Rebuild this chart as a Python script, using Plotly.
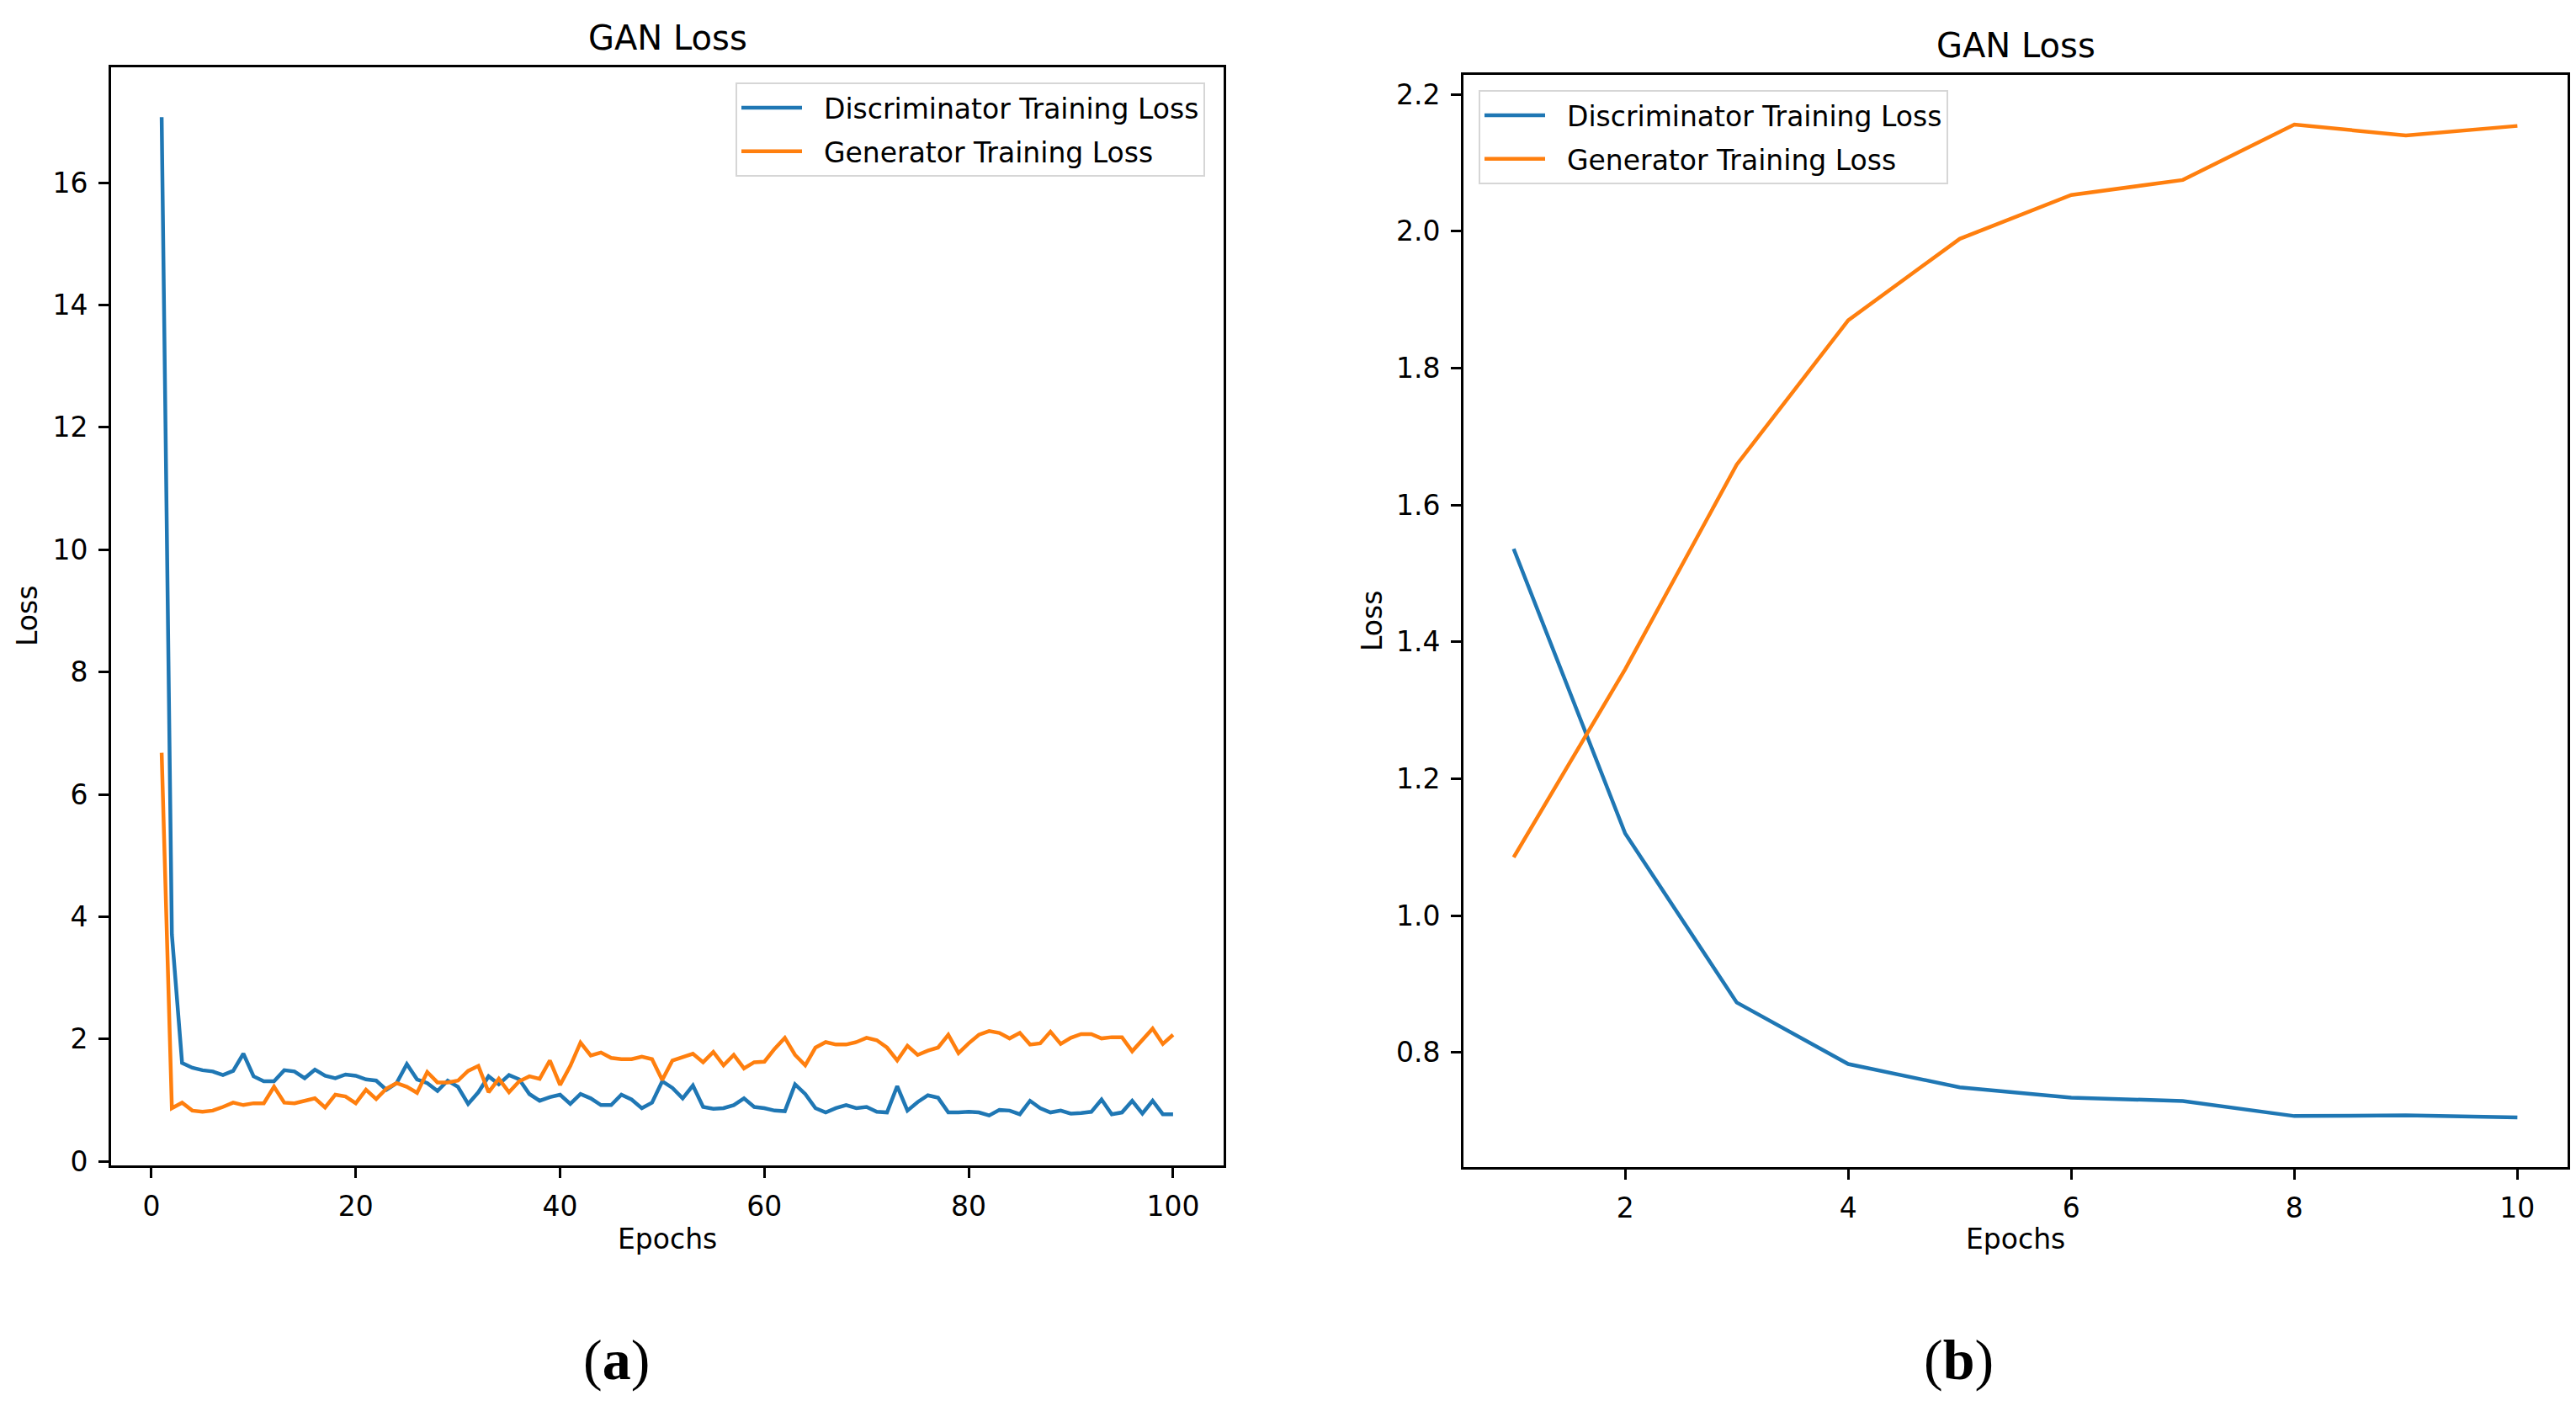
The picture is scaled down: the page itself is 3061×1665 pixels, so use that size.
import plotly.graph_objects as go

# (a) 100-epoch run
epochs_a = list(range(1, 101))
disc_loss_a = [
    17.07, 3.71, 1.61, 1.53, 1.49, 1.47, 1.41, 1.48, 1.76, 1.39,
    1.31, 1.31, 1.49, 1.47, 1.36, 1.50, 1.40, 1.36, 1.42, 1.40,
    1.34, 1.32, 1.17, 1.28, 1.59, 1.34, 1.28, 1.15, 1.32, 1.22,
    0.94, 1.13, 1.39, 1.26, 1.41, 1.34, 1.10, 0.99, 1.05, 1.09,
    0.94, 1.10, 1.03, 0.92, 0.92, 1.09, 1.01, 0.87, 0.96, 1.31,
    1.20, 1.03, 1.24, 0.89, 0.86, 0.87, 0.92, 1.03, 0.89, 0.87,
    0.83, 0.82, 1.26, 1.10, 0.87, 0.80, 0.87, 0.92, 0.87, 0.89,
    0.81, 0.80, 1.23, 0.83, 0.97, 1.08, 1.04, 0.80, 0.80, 0.81,
    0.80, 0.75, 0.84, 0.83, 0.77, 0.99, 0.87, 0.80, 0.83, 0.78,
    0.79, 0.81, 1.01, 0.77, 0.80, 0.99, 0.78, 0.99, 0.77, 0.77,
]
gen_loss_a = [
    6.68, 0.87, 0.96, 0.83, 0.81, 0.83, 0.89, 0.96, 0.92, 0.95,
    0.95, 1.22, 0.96, 0.95, 0.99, 1.03, 0.88, 1.09, 1.06, 0.95,
    1.17, 1.02, 1.19, 1.28, 1.22, 1.12, 1.46, 1.29, 1.29, 1.32,
    1.48, 1.56, 1.13, 1.35, 1.13, 1.31, 1.39, 1.35, 1.65, 1.25,
    1.56, 1.94, 1.73, 1.78, 1.69, 1.67, 1.67, 1.71, 1.67, 1.33,
    1.65, 1.70, 1.76, 1.62, 1.79, 1.57, 1.74, 1.52, 1.62, 1.63,
    1.84, 2.02, 1.74, 1.57, 1.86, 1.95, 1.91, 1.91, 1.95, 2.02,
    1.98, 1.86, 1.65, 1.89, 1.74, 1.81, 1.86, 2.07, 1.77, 1.93,
    2.07, 2.13, 2.10, 2.01, 2.10, 1.91, 1.93, 2.12, 1.92, 2.02,
    2.08, 2.08, 2.01, 2.03, 2.03, 1.80, 1.99, 2.17, 1.92, 2.07,
]

# (b) 10-epoch run
epochs_b = list(range(1, 11))
disc_loss_b = [1.536, 1.120, 0.873, 0.783, 0.749, 0.734, 0.729, 0.707, 0.708, 0.705]
gen_loss_b = [1.085, 1.360, 1.659, 1.870, 1.989, 2.053, 2.075, 2.156, 2.140, 2.154]

ticks_xa = [0, 20, 40, 60, 80, 100]
ticks_ya = [0, 2, 4, 6, 8, 10, 12, 14, 16]
ticks_xb = [2, 4, 6, 8, 10]
ticks_yb = [0.8, 1.0, 1.2, 1.4, 1.6, 1.8, 2.0, 2.2]

BLUE = "#1f77b4"
ORANGE = "#ff7f0e"
W, H = 3061, 1665
FONT = "DejaVu Sans"
GAP = "\u00a0\u00a0"  # small gap between legend line and label


def pad_range(vals, frac=0.05):
    # matplotlib-style 5% margins
    lo, hi = min(vals), max(vals)
    d = (hi - lo) * frac
    return [lo - d, hi + d]


fig = go.Figure()

fig.add_trace(go.Scatter(x=epochs_a, y=disc_loss_a, mode="lines", name=GAP + "Discriminator Training Loss",
                         line=dict(color=BLUE, width=4.5), xaxis="x", yaxis="y",
                         legend="legend", legendgroup="a1"))
fig.add_trace(go.Scatter(x=epochs_a, y=gen_loss_a, mode="lines", name=GAP + "Generator Training Loss",
                         line=dict(color=ORANGE, width=4.5), xaxis="x", yaxis="y",
                         legend="legend", legendgroup="a2"))
fig.add_trace(go.Scatter(x=epochs_b, y=disc_loss_b, mode="lines", name=GAP + "Discriminator Training Loss",
                         line=dict(color=BLUE, width=4.5), xaxis="x2", yaxis="y2",
                         legend="legend2", legendgroup="b1"))
fig.add_trace(go.Scatter(x=epochs_b, y=gen_loss_b, mode="lines", name=GAP + "Generator Training Loss",
                         line=dict(color=ORANGE, width=4.5), xaxis="x2", yaxis="y2",
                         legend="legend2", legendgroup="b2"))

axis_style = dict(
    showline=True, linecolor="black", linewidth=2.6, mirror=True,
    showgrid=False, zeroline=False,
    ticks="outside", ticklen=12, tickwidth=2.6, tickcolor="black",
    tickfont=dict(family=FONT, size=33, color="black"),
    ticklabelstandoff=6, automargin=False,
)

fig.update_layout(
    xaxis=dict(axis_style, domain=[132 / W, 1454 / W], anchor="y",
               range=pad_range(epochs_a), tickvals=ticks_xa),
    yaxis=dict(axis_style, domain=[1 - 1385 / H, 1 - 80 / H], anchor="x",
               range=pad_range(disc_loss_a + gen_loss_a), tickvals=ticks_ya),
    xaxis2=dict(axis_style, domain=[1739 / W, 3051 / W], anchor="y2",
                range=pad_range(epochs_b), tickvals=ticks_xb),
    yaxis2=dict(axis_style, domain=[1 - 1387 / H, 1 - 89 / H], anchor="x2",
                range=pad_range(disc_loss_b + gen_loss_b), tickvals=ticks_yb,
                tickformat=".1f"),
)

legend_style = dict(
    bgcolor="white", bordercolor="#d6d6d6", borderwidth=2,
    font=dict(family=FONT, size=33, color="black"),
    traceorder="grouped", tracegroupgap=6, itemwidth=72,
    xref="paper", yref="paper", yanchor="top",
)
fig.update_layout(
    legend=dict(legend_style, x=1432 / W, xanchor="right", y=1 - 98 / H),
    legend2=dict(legend_style, x=1757 / W, xanchor="left", y=1 - 107 / H),
)

# titles, axis labels and panel letters
texts = [
    ("GAN Loss", 793, 45, 40, 0, FONT),
    ("GAN Loss", 2395, 54, 40, 0, FONT),
    ("Epochs", 793, 1472, 33, 0, FONT),
    ("Epochs", 2395, 1472, 33, 0, FONT),
    ("Loss", 33, 732, 33, -90, FONT),
    ("Loss", 1630, 738, 33, -90, FONT),
    ("(<b>a</b>)", 732, 1616, 68, 0, "Liberation Serif"),
    ("(<b>b</b>)", 2327, 1616, 68, 0, "Liberation Serif"),
]
for txt, px, py, size, ang, fam in texts:
    fig.add_annotation(text=txt, x=px / W, y=1 - py / H, xref="paper", yref="paper",
                       xanchor="center", yanchor="middle", showarrow=False, textangle=ang,
                       font=dict(family=fam, size=size, color="black"))

fig.update_layout(
    width=W, height=H,
    margin=dict(l=0, r=0, t=0, b=0),
    paper_bgcolor="white", plot_bgcolor="white",
    font=dict(family=FONT, color="black"),
)

fig.write_html("out.html", config={"displayModeBar": False},
               post_script="document.body.style.margin = '0px';")
